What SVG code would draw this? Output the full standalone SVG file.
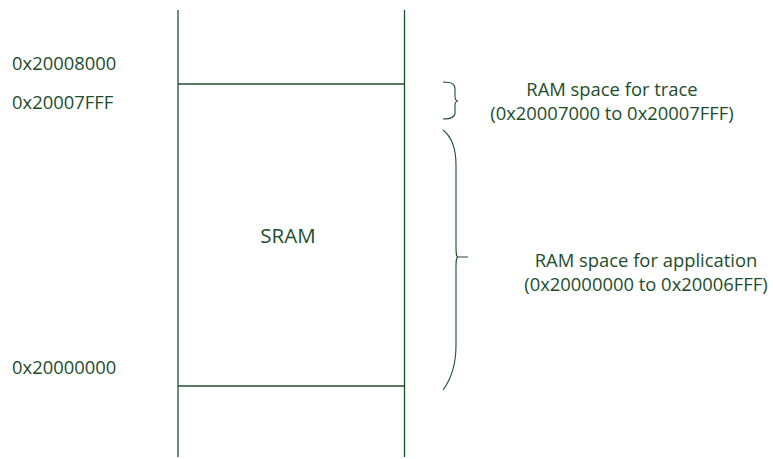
<svg xmlns="http://www.w3.org/2000/svg" width="773" height="459" viewBox="0 0 773 459">
<style>
.ln{stroke:#1f4e2f;stroke-width:1.3;fill:none}
.br{stroke:#1f4e2f;stroke-width:1.1;fill:none}
text{font-family:"Open Sans","Noto Sans","Liberation Sans",sans-serif;fill:#1e4d2b;font-size:18.4px}
.c{text-anchor:middle}
</style>
<rect width="773" height="459" fill="#ffffff"/>
<g id="memory">
<line class="ln" x1="178" y1="10" x2="178" y2="457"/>
<line class="ln" x1="404.5" y1="10" x2="404.5" y2="457"/>
<line class="ln" x1="178" y1="84" x2="404.5" y2="84"/>
<line class="ln" x1="178" y1="386" x2="404.5" y2="386"/>
<text class="c" x="288" y="243" style="font-size:20.5px">SRAM</text>
</g>
<g id="addresses">
<text x="12" y="70">0x20008000</text>
<text x="12" y="109">0x20007FFF</text>
<text x="12" y="374">0x20000000</text>
</g>
<g id="trace">
<path class="br" d="M443,82 C452,82 455,84 455,89 L455,96 C455,99 456,101 458,101 C456,101 455,103 455,106 L455,113 C455,117 452,119 443,119"/>
<text class="c" x="612" y="96">RAM space for trace</text>
<text class="c" x="612" y="120">(0x20007000 to 0x20007FFF)</text>
</g>
<g id="application">
<path class="br" d="M443,130 C452,137 456,148 456,165 L456,245 C456,252 456,257 458,257 L468,257 M458,257 C456,257 456,262 456,269 L456,345 C456,365 452,378 443,390"/>
<text class="c" x="646" y="267">RAM space for application</text>
<text class="c" x="646" y="291">(0x20000000 to 0x20006FFF)</text>
</g>
</svg>
